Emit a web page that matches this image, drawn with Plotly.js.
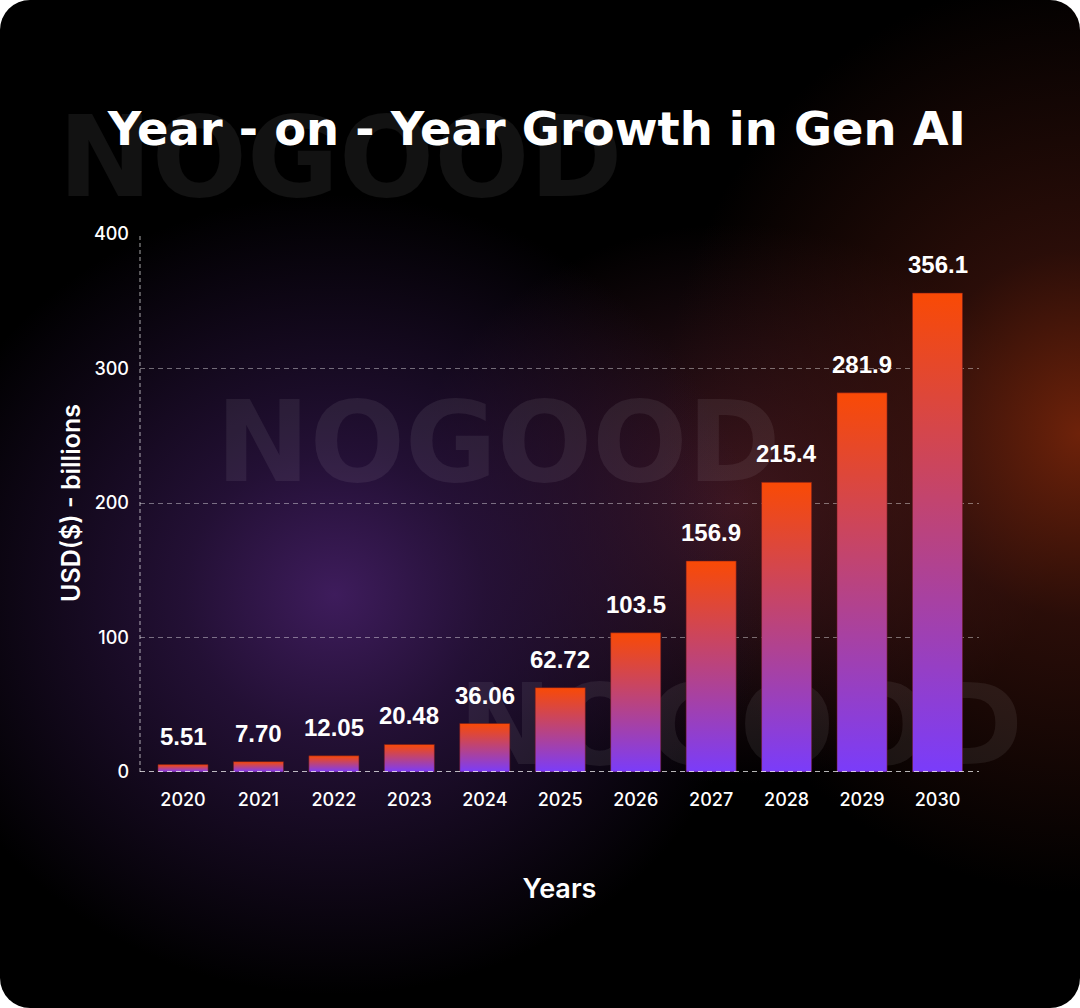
<!DOCTYPE html>
<html>
<head>
<meta charset="utf-8">
<script src="https://cdn.plot.ly/plotly-3.0.1.min.js"></script>
<style>
  html, body { margin: 0; padding: 0; background: #ffffff; }
  #wrap {
    position: relative; width: 1080px; height: 1008px; border-radius: 30px; overflow: hidden;
    background:
      radial-gradient(ellipse 430px 400px at 31% 59%, rgba(62,28,92,1) 0%, rgba(44,20,66,0.8) 35%, rgba(0,0,0,0) 100%),
      radial-gradient(ellipse 420px 460px at 100% 43%, rgba(110,34,10,1) 0%, rgba(70,22,14,0.6) 40%, rgba(0,0,0,0) 100%),
      radial-gradient(ellipse 330px 280px at 68% 50%, rgba(70,26,40,0.85) 0%, rgba(0,0,0,0) 100%),
      #000000;
  }
  #chart { width: 1080px; height: 1008px; }
</style>
</head>
<body>
<div id="wrap"><div id="chart"></div></div>
<script>
// ---- data ----
const years = [2020, 2021, 2022, 2023, 2024, 2025, 2026, 2027, 2028, 2029, 2030];
const values = [5.51, 7.70, 12.05, 20.48, 36.06, 62.72, 103.5, 156.9, 215.4, 281.9, 356.1];
const valueLabels = ['5.51', '7.70', '12.05', '20.48', '36.06', '62.72', '103.5', '156.9', '215.4', '281.9', '356.1'];
const tickLabels = ['2020', '2021', '2022', '2023', '2024', '2025', '2026', '2027', '2028', '2029', '2030'];
const yTicks = [0, 100, 200, 300, 400];
const watermark = 'NOGOOD';

// ---- styles ----
const half = 0.332;
const gradient = [[0, '#7a3cfa'], [1, '#f94a05']];
const labelFont = {family: 'Liberation Sans, Arial, sans-serif', size: 24, color: '#ffffff', weight: 700};
const tickFont = {family: 'Inter, sans-serif', size: 18, color: '#ffffff', weight: 500};

const traces = years.map((yr, i) => ({
  type: 'scatter',
  mode: 'lines',
  x: [yr - half, yr - half, yr + half, yr + half, yr - half],
  y: [0, values[i], values[i], 0, 0],
  fill: 'toself',
  fillgradient: {type: 'vertical', colorscale: gradient},
  line: {color: 'rgba(110,25,30,0.55)', width: 1},
  hoverinfo: 'skip',
  showlegend: false
}));

const annotations = years.map((yr, i) => ({
  x: yr, y: values[i], xref: 'x', yref: 'y',
  text: valueLabels[i], showarrow: false,
  yanchor: 'bottom', xanchor: 'center', yshift: 13,
  font: labelFont
}));

const wmFont = {family: 'DejaVu Sans, sans-serif', size: 112, color: 'rgba(255,255,255,0.07)', weight: 700};
const wmPos = [[0.2387, 1.158], [0.427, 0.629], [0.716, 0.102]];
const shapes = wmPos.map(p => ({
  type: 'rect', xref: 'paper', yref: 'paper',
  x0: p[0] - 0.3, x1: p[0] + 0.3, y0: p[1] - 0.08, y1: p[1] + 0.08,
  line: {width: 0}, fillcolor: 'rgba(0,0,0,0)', layer: 'below',
  label: {text: watermark, font: wmFont, textposition: 'middle center'}
}));
shapes.push({
  type: 'line', xref: 'paper', yref: 'y', x0: 0, x1: 1, y0: 0, y1: 0,
  line: {color: 'rgba(255,255,255,0.95)', width: 1.3, dash: '5px,4px'}, layer: 'above'
});
shapes.push({
  type: 'line', xref: 'paper', yref: 'paper', x0: 0, x1: 0, y0: 0, y1: 1,
  line: {color: 'rgba(255,255,255,0.55)', width: 1.2, dash: '4px,3px'}, layer: 'above'
});

const layout = {
  width: 1080, height: 1008,
  paper_bgcolor: 'rgba(0,0,0,0)', plot_bgcolor: 'rgba(0,0,0,0)',
  margin: {l: 140, r: 101, t: 234, b: 236},
  title: {
    text: 'Year - on - Year Growth in Gen AI',
    x: 0.497, xref: 'container', xanchor: 'center',
    y: 0.872, yref: 'container', yanchor: 'middle',
    font: {family: 'DejaVu Sans, sans-serif', size: 46.4, color: '#ffffff', weight: 700}
  },
  xaxis: {
    range: [2019.43, 2030.55], tickvals: years, ticktext: tickLabels,
    showgrid: false, zeroline: false, showline: false, ticks: '',
    tickfont: tickFont, ticklabelstandoff: 15, fixedrange: true,
    title: {text: 'Years', standoff: 70, font: {family: 'Inter, sans-serif', size: 27, color: '#ffffff', weight: 600}}
  },
  yaxis: {
    range: [0, 400], tickvals: yTicks, ticktext: yTicks.map(String),
    showgrid: true, gridcolor: 'rgba(255,255,255,0.4)', gridwidth: 1, griddash: '5px,4px',
    zeroline: false, showline: false, ticks: '',
    tickfont: tickFont, ticklabelstandoff: 10, fixedrange: true,
    title: {text: 'USD($) - billions', standoff: 6, font: {family: 'Inter, sans-serif', size: 25, color: '#ffffff', weight: 600}}
  },
  annotations: annotations,
  shapes: shapes,
  showlegend: false
};

Plotly.newPlot('chart', traces, layout, {displayModeBar: false, staticPlot: true});
</script>
</body>
</html>
